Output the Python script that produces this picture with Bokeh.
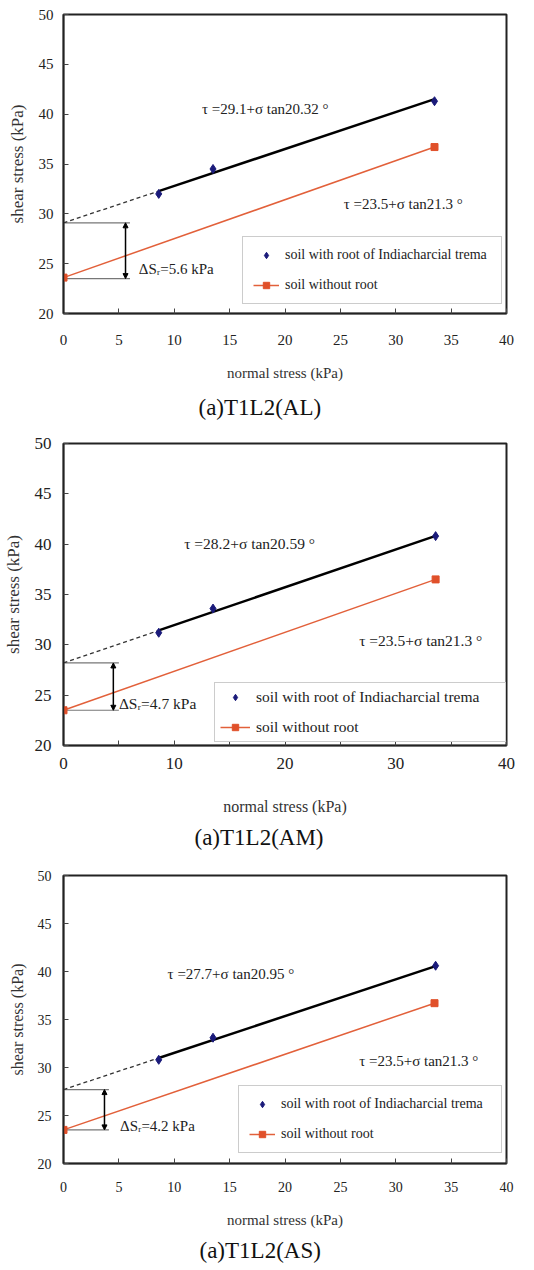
import math
from bokeh.plotting import figure
from bokeh.layouts import column
from bokeh.models import (Range1d, Legend, LegendItem, Arrow, NormalHead, Title,
                          FixedTicker)
from bokeh.embed import file_html
from bokeh.resources import INLINE
from bokeh.core.properties import value

# ---------------- data ----------------
captions = ["(a)T1L2(AL)", "(a)T1L2(AM)", "(a)T1L2(AS)"]
root_x = [[8.6, 13.5, 33.5], [8.6, 13.5, 33.6], [8.6, 13.5, 33.6]]
root_y = [[32.0, 34.5, 41.3], [31.2, 33.6, 40.8], [30.8, 33.1, 40.6]]
soil_x = [[0.0, 33.5], [0.0, 33.6], [0.0, 33.5]]
soil_y = [[23.6, 36.7], [23.5, 36.5], [23.5, 36.7]]
root_c = [29.1, 28.2, 27.7]          # cohesion with root (kPa)
root_phi = [20.32, 20.59, 20.95]     # friction angle with root (deg)
soil_c = 23.5
soil_phi = 21.3
delta_s = [5.6, 4.7, 4.2]
x_ticks = [[0, 5, 10, 15, 20, 25, 30, 35, 40],
           [0, 10, 20, 30, 40],
           [0, 5, 10, 15, 20, 25, 30, 35, 40]]
x_minor = [[], [5, 15, 25, 35], []]
y_ticks = [20, 25, 30, 35, 40, 45, 50]
legend_labels = ["soil with root of Indiacharcial trema", "soil without root"]

# ---------------- annotation placement / style ----------------
styles = [
    dict(h=428, bl=63, br=28, bt=14, bb=113, tick_fs="15px", xlab_fs="15px", ylab_fs="17px",
         txt_fs="15px", leg_fs="14px", eq1=(12.5, 40.5), eq2=(25.3, 31.0), br_x=5.6, br_end=6.0,
         ds=(6.8, 24.5), leg=(179, 9), leg_lw=206, leg_pad=10, leg_sp=14, leg_gw=26,
         tick_sd=21, lab_sd=17, ytick_sd=10, cap_off=135, cap_sd=18),
    dict(h=427, bl=62, br=22, bt=15, bb=110, tick_fs="17px", xlab_fs="16px", ylab_fs="17px",
         txt_fs="15.5px", leg_fs="15.5px", eq1=(10.9, 40.1), eq2=(26.7, 30.4), br_x=4.5, br_end=5.0,
         ds=(5.0, 24.2), leg=(151, 3), leg_lw=244, leg_pad=5, leg_sp=12, leg_gw=30,
         tick_sd=12, lab_sd=26, ytick_sd=12, cap_off=131, cap_sd=11),
    dict(h=415, bl=62, br=22, bt=20, bb=107, tick_fs="14px", xlab_fs="15px", ylab_fs="16px",
         txt_fs="15px", leg_fs="14px", eq1=(9.4, 39.7), eq2=(26.7, 30.7), br_x=3.7, br_end=4.1,
         ds=(5.1, 23.9), leg=(175, 10), leg_lw=210, leg_pad=10, leg_sp=14, leg_gw=26,
         tick_sd=18, lab_sd=17, ytick_sd=12, cap_off=136, cap_sd=11),
]

SERIF = "Liberation Serif"


def make_panel(i):
    st = styles[i]
    p = figure(width=534, height=st["h"], x_range=Range1d(0, 40), y_range=Range1d(20, 50),
               output_backend="svg", toolbar_location=None,
               min_border_left=st["bl"], min_border_right=st["br"],
               min_border_top=st["bt"], min_border_bottom=st["bb"])
    p.grid.visible = False
    p.outline_line_color = "#222222"
    p.outline_line_width = 2
    p.background_fill_color = "white"
    p.border_fill_color = "white"

    p.xaxis.ticker = FixedTicker(ticks=x_ticks[i], minor_ticks=x_minor[i])
    p.yaxis.ticker = FixedTicker(ticks=y_ticks)
    for ax in (p.xaxis, p.yaxis):
        ax.axis_line_color = "#222222"
        ax.axis_line_width = 1.5
        ax.major_tick_in = 5
        ax.major_tick_out = 0
        ax.minor_tick_in = 5
        ax.minor_tick_out = 0
        ax.major_tick_line_color = "#444444"
        ax.minor_tick_line_color = "#444444"
        ax.major_label_text_font = SERIF
        ax.major_label_text_font_size = st["tick_fs"]
        ax.major_label_text_color = "#222222"
        ax.axis_label_text_font = SERIF
        ax.axis_label_text_font_style = "normal"
        ax.axis_label_text_color = "#333333"
    p.xaxis.axis_label_text_font_size = st["xlab_fs"]
    p.yaxis.axis_label_text_font_size = st["ylab_fs"]
    p.xaxis.major_label_standoff = st["tick_sd"]
    p.xaxis.axis_label_standoff = st["lab_sd"]
    p.yaxis.major_label_standoff = st["ytick_sd"]
    p.yaxis.axis_label_standoff = 9
    p.xaxis.axis_label = "normal stress (kPa)"
    p.yaxis.axis_label = "shear stress (kPa)"

    c = root_c[i]
    t = math.tan(math.radians(root_phi[i]))
    x0 = root_x[i][0]
    x1 = root_x[i][-1]
    # bracket showing the cohesion increase
    bx_end = st["br_end"]
    p.segment(x0=[0, 0], y0=[soil_c, c], x1=[bx_end, bx_end], y1=[soil_c, c],
              line_color="#777777", line_width=1.2)
    p.add_layout(Arrow(start=NormalHead(size=5, fill_color="black", line_color="black"),
                       end=NormalHead(size=5, fill_color="black", line_color="black"),
                       x_start=st["br_x"], y_start=soil_c, x_end=st["br_x"], y_end=c,
                       line_color="black", line_width=1.5))
    # regression line of soil with root
    p.line([0, x0], [c, c + t * x0], line_color="#333333", line_width=1.3, line_dash="4 3")
    p.line([x0, x1], [c + t * x0, c + t * x1], line_color="black", line_width=2.5)
    # soil without root
    r_soil_line = p.line(soil_x[i], soil_y[i], line_color="#E2603A", line_width=1.5)
    r_soil_pts = p.scatter(soil_x[i], soil_y[i], marker="square", size=7,
                           fill_color="#E0502A", line_color="#E0502A")
    r_root_pts = p.scatter(root_x[i], root_y[i], marker="diamond", size=9,
                           fill_color="#1A1A7A", line_color="#1A1A7A")

    eq1 = "\u03c4 =%.1f+\u03c3 tan%.2f \u00b0" % (c, root_phi[i])
    eq2 = "\u03c4 =%.1f+\u03c3 tan%.1f \u00b0" % (soil_c, soil_phi)
    dtx = "\u0394S\u1d63=%.1f kPa" % delta_s[i]
    p.text(x=[st["eq1"][0], st["eq2"][0], st["ds"][0]],
           y=[st["eq1"][1], st["eq2"][1], st["ds"][1]],
           text=[eq1, eq2, dtx], text_font=value(SERIF), text_font_size=st["txt_fs"],
           text_align="left", text_baseline="middle", text_color="#222222")

    legend = Legend(items=[LegendItem(label=legend_labels[0], renderers=[r_root_pts]),
                           LegendItem(label=legend_labels[1], renderers=[r_soil_line, r_soil_pts])],
                    location=st["leg"], orientation="vertical",
                    label_text_font=SERIF, label_text_font_size=st["leg_fs"],
                    label_text_color="#222222", label_width=st["leg_lw"],
                    label_height=16, glyph_height=16, glyph_width=st["leg_gw"], label_standoff=6,
                    padding=st["leg_pad"], spacing=st["leg_sp"],
                    border_line_color="#999999", border_line_width=1,
                    background_fill_color="white", background_fill_alpha=1.0)
    p.add_layout(legend)

    p.add_layout(Title(text=captions[i], align="left", offset=st["cap_off"],
                       text_font=SERIF, text_font_size="23px", text_font_style="normal",
                       text_color="#111111", standoff=st["cap_sd"]), "below")
    return p


layout = column(make_panel(0), make_panel(1), make_panel(2), spacing=0)
open("out.html", "w").write(file_html(layout, INLINE))
